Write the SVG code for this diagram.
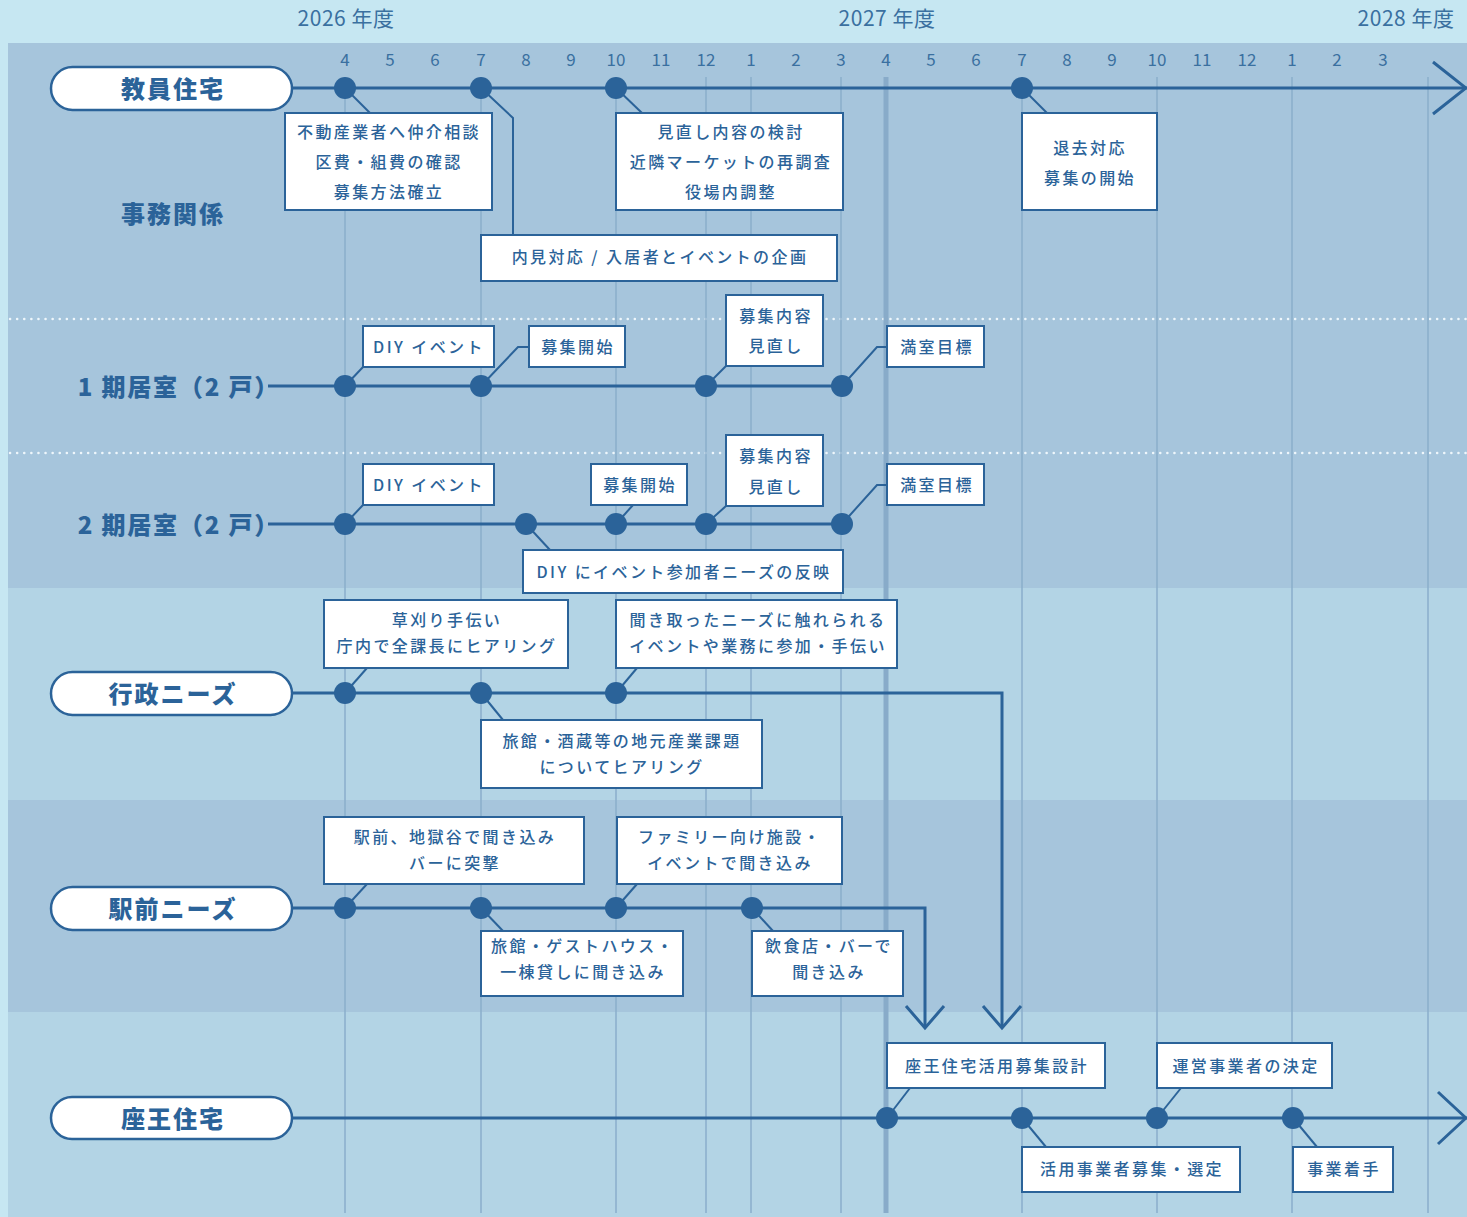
<svg xmlns="http://www.w3.org/2000/svg" width="1467" height="1217" viewBox="0 0 1467 1217">
<style>
.box{fill:#fff;stroke:#2b6399;stroke-width:2;}
.bt{font-family:"Noto Sans CJK JP","Noto Sans",sans-serif;fill:#2b6399;font-size:16px;font-weight:500;letter-spacing:2.4px;text-anchor:middle;dominant-baseline:central;transform:translateY(-1.5px);}
.pill{fill:#fff;stroke:#2b6399;stroke-width:2.5;}
.lab{font-family:"Noto Sans CJK JP","Noto Sans",sans-serif;fill:#2b6399;font-size:24px;font-weight:900;letter-spacing:2px;text-anchor:middle;dominant-baseline:central;transform:translateY(-1.5px);}
.mon{font-family:"Noto Sans CJK JP","Noto Sans",sans-serif;fill:#3a70a0;font-size:17px;text-anchor:middle;dominant-baseline:central;}
.yr{font-family:"Noto Sans CJK JP","Noto Sans",sans-serif;fill:#3a70a0;font-size:21px;letter-spacing:0.5px;text-anchor:middle;dominant-baseline:central;}
.main{fill:none;stroke:#2b6399;stroke-width:3;}
.lead{fill:none;stroke:#2b6399;stroke-width:2;}
.dot{fill:#2b6399;}
.grid{stroke:#8aaecb;stroke-width:1.5;}
.sep{stroke:#eef6fb;stroke-width:2.5;stroke-dasharray:0.1 7;stroke-linecap:round;}
</style>
<!-- backgrounds -->
<rect x="0" y="0" width="1467" height="1217" fill="#c6e7f2"/>
<rect x="8" y="43" width="1459" height="545" fill="#a6c5dc"/>
<rect x="8" y="588" width="1459" height="212" fill="#b3d4e5"/>
<rect x="8" y="800" width="1459" height="212" fill="#a6c5dc"/>
<rect x="8" y="1012" width="1459" height="205" fill="#b3d4e5"/>
<line class="sep" x1="10" y1="319" x2="1467" y2="319"/>
<line class="sep" x1="10" y1="453" x2="1467" y2="453"/>
<!-- grid -->
<g id="grid">
<line class="grid" x1="345" y1="77" x2="345" y2="1213"/>
<line class="grid" x1="481" y1="77" x2="481" y2="1213"/>
<line class="grid" x1="616" y1="77" x2="616" y2="1213"/>
<line class="grid" x1="706" y1="77" x2="706" y2="1213"/>
<line class="grid" x1="751" y1="77" x2="751" y2="1213"/>
<line class="grid" x1="841" y1="77" x2="841" y2="1213"/>
<line x1="886" y1="77" x2="886" y2="1213" stroke="#88abc9" stroke-width="5"/>
<line class="grid" x1="1022" y1="77" x2="1022" y2="1213"/>
<line class="grid" x1="1157" y1="77" x2="1157" y2="1213"/>
<line class="grid" x1="1292" y1="77" x2="1292" y2="1213"/>
<line class="grid" x1="1428" y1="77" x2="1428" y2="1213"/>
</g>
<!-- header -->
<g id="header">
<text class="yr" x="346" y="17">2026 年度</text>
<text class="yr" x="887" y="17">2027 年度</text>
<text class="yr" x="1406" y="17">2028 年度</text>
<text class="mon" x="345" y="58">4</text>
<text class="mon" x="390" y="58">5</text>
<text class="mon" x="435" y="58">6</text>
<text class="mon" x="481" y="58">7</text>
<text class="mon" x="526" y="58">8</text>
<text class="mon" x="571" y="58">9</text>
<text class="mon" x="616" y="58">10</text>
<text class="mon" x="661" y="58">11</text>
<text class="mon" x="706" y="58">12</text>
<text class="mon" x="751" y="58">1</text>
<text class="mon" x="796" y="58">2</text>
<text class="mon" x="841" y="58">3</text>
<text class="mon" x="886" y="58">4</text>
<text class="mon" x="931" y="58">5</text>
<text class="mon" x="976" y="58">6</text>
<text class="mon" x="1022" y="58">7</text>
<text class="mon" x="1067" y="58">8</text>
<text class="mon" x="1112" y="58">9</text>
<text class="mon" x="1157" y="58">10</text>
<text class="mon" x="1202" y="58">11</text>
<text class="mon" x="1247" y="58">12</text>
<text class="mon" x="1292" y="58">1</text>
<text class="mon" x="1337" y="58">2</text>
<text class="mon" x="1383" y="58">3</text>
</g>
<!-- connectors -->
<g id="connectors">
<!-- row 1 -->
<polyline class="main" points="292,88 1467,88"/>
<polyline class="main" points="1433,62 1466,88 1433,114"/>
<polyline class="lead" points="345,88 370,113"/>
<polyline class="lead" points="481,88 513,118 513,235"/>
<polyline class="lead" points="616,88 642,113"/>
<polyline class="lead" points="1022,88 1047,113"/>
<!-- row 2 -->
<polyline class="main" points="268,386 842,386"/>
<polyline class="lead" points="345,386 363,367"/>
<polyline class="lead" points="481,386 518,347 529,347"/>
<polyline class="lead" points="706,386 726,366"/>
<polyline class="lead" points="842,386 877,347 887,347"/>
<!-- row 3 -->
<polyline class="main" points="268,524 842,524"/>
<polyline class="lead" points="345,524 363,505"/>
<polyline class="lead" points="526,524 550,550"/>
<polyline class="lead" points="616,524 633,505"/>
<polyline class="lead" points="706,524 726,506"/>
<polyline class="lead" points="842,524 877,485 887,485"/>
<!-- row 4 -->
<polyline class="main" points="292,693 1002,693 1002,1027"/>
<polyline class="main" points="983,1006 1002,1028 1021,1006"/>
<polyline class="lead" points="345,693 367,668"/>
<polyline class="lead" points="481,693 503,720"/>
<polyline class="lead" points="616,693 637,668"/>
<!-- row 5 -->
<polyline class="main" points="292,908 925,908 925,1027"/>
<polyline class="main" points="906,1006 925,1028 944,1006"/>
<polyline class="lead" points="345,908 367,884"/>
<polyline class="lead" points="481,908 503,931"/>
<polyline class="lead" points="616,908 637,884"/>
<polyline class="lead" points="752,908 773,931"/>
<!-- row 6 -->
<polyline class="main" points="292,1118 1467,1118"/>
<polyline class="main" points="1438,1092 1466,1118 1438,1144"/>
<polyline class="lead" points="887,1118 910,1088"/>
<polyline class="lead" points="1022,1118 1046,1147"/>
<polyline class="lead" points="1157,1118 1181,1088"/>
<polyline class="lead" points="1293,1118 1317,1147"/>
</g>
<!-- dots -->
<g id="dots">
<circle class="dot" cx="345" cy="88" r="11"/><circle class="dot" cx="481" cy="88" r="11"/><circle class="dot" cx="616" cy="88" r="11"/><circle class="dot" cx="1022" cy="88" r="11"/>
<circle class="dot" cx="345" cy="386" r="11"/><circle class="dot" cx="481" cy="386" r="11"/><circle class="dot" cx="706" cy="386" r="11"/><circle class="dot" cx="842" cy="386" r="11"/>
<circle class="dot" cx="345" cy="524" r="11"/><circle class="dot" cx="526" cy="524" r="11"/><circle class="dot" cx="616" cy="524" r="11"/><circle class="dot" cx="706" cy="524" r="11"/><circle class="dot" cx="842" cy="524" r="11"/>
<circle class="dot" cx="345" cy="693" r="11"/><circle class="dot" cx="481" cy="693" r="11"/><circle class="dot" cx="616" cy="693" r="11"/>
<circle class="dot" cx="345" cy="908" r="11"/><circle class="dot" cx="481" cy="908" r="11"/><circle class="dot" cx="616" cy="908" r="11"/><circle class="dot" cx="752" cy="908" r="11"/>
<circle class="dot" cx="887" cy="1118" r="11"/><circle class="dot" cx="1022" cy="1118" r="11"/><circle class="dot" cx="1157" cy="1118" r="11"/><circle class="dot" cx="1293" cy="1118" r="11"/>
</g>
<!-- row labels -->
<g id="n-kyoin"><rect class="pill" x="51" y="67" width="241" height="43" rx="21.5"/><text class="lab" x="173" y="89">教員住宅</text></g>
<g id="n-jimu"><text class="lab" x="173" y="214">事務関係</text></g>
<g id="n-ki1"><text class="lab" x="280" y="387" style="letter-spacing:1.8px;text-anchor:end">1 期居室（2 戸）</text></g>
<g id="n-ki2"><text class="lab" x="280" y="525" style="letter-spacing:1.8px;text-anchor:end">2 期居室（2 戸）</text></g>
<g id="n-gyosei"><rect class="pill" x="51" y="672" width="241" height="43" rx="21.5"/><text class="lab" x="173" y="694">行政ニーズ</text></g>
<g id="n-ekimae"><rect class="pill" x="51" y="887" width="241" height="43" rx="21.5"/><text class="lab" x="173" y="909">駅前ニーズ</text></g>
<g id="n-zao"><rect class="pill" x="51" y="1097" width="241" height="42" rx="21"/><text class="lab" x="173" y="1119">座王住宅</text></g>
<!-- boxes row 1 -->
<g id="b1"><rect class="box" x="285" y="113" width="207" height="97"/><text class="bt" x="389" y="132">不動産業者へ仲介相談</text><text class="bt" x="389" y="162">区費・組費の確認</text><text class="bt" x="389" y="192">募集方法確立</text></g>
<g id="b2"><rect class="box" x="481" y="235" width="356" height="46"/><text class="bt" x="660" y="257">内見対応 / 入居者とイベントの企画</text></g>
<g id="b3"><rect class="box" x="616" y="113" width="227" height="97"/><text class="bt" x="731" y="132">見直し内容の検討</text><text class="bt" x="731" y="162">近隣マーケットの再調査</text><text class="bt" x="731" y="192">役場内調整</text></g>
<g id="b4"><rect class="box" x="1022" y="113" width="135" height="97"/><text class="bt" x="1090" y="148">退去対応</text><text class="bt" x="1090" y="178">募集の開始</text></g>
<!-- row 2 -->
<g id="b5"><rect class="box" x="363" y="326" width="131" height="41"/><text class="bt" x="429" y="347">DIY イベント</text></g>
<g id="b6"><rect class="box" x="529" y="326" width="96" height="41"/><text class="bt" x="578" y="347">募集開始</text></g>
<g id="b7"><rect class="box" x="726" y="295" width="97" height="71"/><text class="bt" x="776" y="316">募集内容</text><text class="bt" x="776" y="346">見直し</text></g>
<g id="b8"><rect class="box" x="887" y="326" width="97" height="41"/><text class="bt" x="937" y="347">満室目標</text></g>
<!-- row 3 -->
<g id="b9"><rect class="box" x="363" y="464" width="131" height="41"/><text class="bt" x="429" y="485">DIY イベント</text></g>
<g id="b10"><rect class="box" x="591" y="464" width="96" height="41"/><text class="bt" x="640" y="485">募集開始</text></g>
<g id="b11"><rect class="box" x="726" y="435" width="97" height="71"/><text class="bt" x="776" y="456">募集内容</text><text class="bt" x="776" y="487">見直し</text></g>
<g id="b12"><rect class="box" x="887" y="464" width="97" height="41"/><text class="bt" x="937" y="485">満室目標</text></g>
<g id="b13"><rect class="box" x="523" y="550" width="320" height="43"/><text class="bt" x="684" y="572">DIY にイベント参加者ニーズの反映</text></g>
<!-- row 4 -->
<g id="b14"><rect class="box" x="324" y="600" width="244" height="68"/><text class="bt" x="447" y="620">草刈り手伝い</text><text class="bt" x="447" y="646">庁内で全課長にヒアリング</text></g>
<g id="b15"><rect class="box" x="481" y="720" width="281" height="68"/><text class="bt" x="622" y="741">旅館・酒蔵等の地元産業課題</text><text class="bt" x="622" y="767">についてヒアリング</text></g>
<g id="b16"><rect class="box" x="616" y="600" width="281" height="68"/><text class="bt" x="758" y="620">聞き取ったニーズに触れられる</text><text class="bt" x="758" y="646">イベントや業務に参加・手伝い</text></g>
<!-- row 5 -->
<g id="b17"><rect class="box" x="324" y="817" width="260" height="67"/><text class="bt" x="455" y="837">駅前、地獄谷で聞き込み</text><text class="bt" x="455" y="863">バーに突撃</text></g>
<g id="b18"><rect class="box" x="617" y="817" width="225" height="67"/><text class="bt" x="730" y="837">ファミリー向け施設・</text><text class="bt" x="730" y="863">イベントで聞き込み</text></g>
<g id="b19"><rect class="box" x="481" y="931" width="202" height="65"/><text class="bt" x="583" y="946">旅館・ゲストハウス・</text><text class="bt" x="583" y="972">一棟貸しに聞き込み</text></g>
<g id="b20"><rect class="box" x="752" y="931" width="151" height="65"/><text class="bt" x="829" y="946">飲食店・バーで</text><text class="bt" x="829" y="972">聞き込み</text></g>
<!-- row 6 -->
<g id="b21"><rect class="box" x="887" y="1043" width="218" height="45"/><text class="bt" x="997" y="1066">座王住宅活用募集設計</text></g>
<g id="b22"><rect class="box" x="1157" y="1043" width="175" height="45"/><text class="bt" x="1246" y="1066">運営事業者の決定</text></g>
<g id="b23"><rect class="box" x="1022" y="1147" width="218" height="45"/><text class="bt" x="1132" y="1169">活用事業者募集・選定</text></g>
<g id="b24"><rect class="box" x="1293" y="1147" width="100" height="45"/><text class="bt" x="1344" y="1169">事業着手</text></g>
</svg>
